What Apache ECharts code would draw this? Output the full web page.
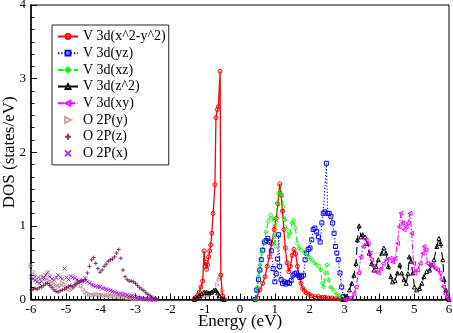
<!DOCTYPE html>
<html><head><meta charset="utf-8">
<script src="https://cdn.jsdelivr.net/npm/echarts@6/dist/echarts.min.js"></script>
<style>html,body{margin:0;padding:0;background:#fff}#c{width:453px;height:333px}</style>
</head><body><div id="c"></div>
<script>
// ---- tick values ----
const xTicks = [-6, -5, -4, -3, -2, -1, 0, 1, 2, 3, 4, 5, 6];
const yTicks = [0, 1, 2, 3, 4];

// ---- V 3d(x^2-y^2) ----
const eX2occ = [-1.31,-1.26,-1.21,-1.17,-1.12,-1.07,-1.03,-1.00,-0.98,-0.96,-0.93,-0.90,-0.87,-0.84,-0.81,-0.77,-0.72,-0.69,-0.65,-0.62,-0.57,-0.55,-0.50,-0.45];
const dX2occ = [0.01,0.03,0.06,0.10,0.17,0.25,0.66,0.45,0.51,0.41,0.47,0.58,0.66,0.74,0.90,1.17,1.56,2.47,2.58,2.62,3.10,0.33,0.05,0.00];
const eX2un = [0.45,0.50,0.57,0.65,0.72,0.78,0.84,0.91,0.98,1.04,1.09,1.14,1.18,1.22,1.26,1.30,1.35,1.40,1.45,1.50,1.55,1.60,1.65,1.70,1.75,1.80,1.85,1.90,1.98,2.06,2.15,2.25,2.35,2.45,2.55,2.65,2.75,2.85,2.95,3.05];
const dX2un = [0.00,0.02,0.13,0.22,0.31,0.45,0.58,0.76,0.95,1.10,1.30,1.57,1.42,1.20,0.95,0.70,0.50,0.38,0.45,0.60,0.68,0.62,0.45,0.32,0.22,0.15,0.12,0.09,0.07,0.05,0.04,0.04,0.03,0.03,0.02,0.02,0.01,0.01,0.00,0.00];

// ---- V 3d(yz) ----
const eYZ = [0.43,0.48,0.53,0.57,0.61,0.65,0.70,0.75,0.80,0.85,0.90,0.95,1.00,1.04,1.08,1.11,1.14,1.18,1.22,1.27,1.32,1.37,1.42,1.47,1.52,1.57,1.62,1.67,1.72,1.77,1.82,1.87,1.91,1.96,2.01,2.06,2.10,2.15,2.20,2.25,2.30,2.35,2.39,2.44,2.48,2.52,2.56,2.61,2.66,2.70,2.74,2.78,2.82,2.87,2.92,2.97,3.02];
const dYZ = [0.00,0.13,0.27,0.40,0.54,0.67,0.78,0.80,0.83,0.78,0.66,0.42,0.24,0.35,0.55,0.88,0.45,0.27,0.22,0.24,0.21,0.23,0.22,0.26,0.33,0.35,0.36,0.33,0.30,0.31,0.33,0.54,0.63,0.68,0.70,0.81,0.95,0.97,0.92,0.85,0.78,1.04,1.17,1.19,1.85,1.17,1.17,1.13,1.04,0.90,0.72,0.63,0.54,0.36,0.17,0.04,0.00];

// ---- V 3d(xz) ----
const eXZ = [0.45,0.50,0.53,0.57,0.62,0.69,0.75,0.81,0.88,0.94,0.98,1.01,1.04,1.07,1.10,1.15,1.20,1.24,1.29,1.34,1.39,1.44,1.49,1.54,1.59,1.64,1.70,1.77,1.84,1.91,1.98,2.06,2.13,2.20,2.27,2.32,2.36,2.40,2.45,2.50,2.55,2.60,2.68,2.76,2.84,2.92,3.00,3.08];
const dXZ = [0.00,0.17,0.31,0.47,0.63,0.79,0.92,1.06,1.15,1.10,0.85,0.72,1.05,1.31,1.44,1.47,1.40,1.26,1.08,0.95,0.85,0.90,1.04,1.08,0.97,0.76,0.70,0.67,0.64,0.62,0.58,0.54,0.50,0.47,0.45,0.40,0.22,0.17,0.36,0.47,0.27,0.17,0.13,0.08,0.05,0.02,0.01,0.00];

// ---- V 3d(z^2) ----
const eZ2occ = [-1.31,-1.24,-1.17,-1.10,-1.03,-0.96,-0.89,-0.82,-0.76,-0.70,-0.64,-0.58,-0.52,-0.46];
const dZ2occ = [0.00,0.02,0.05,0.08,0.10,0.10,0.09,0.10,0.12,0.13,0.09,0.05,0.01,0.00];
const eZ2un = [2.95,3.01,3.06,3.14,3.21,3.27,3.33,3.37,3.42,3.47,3.52,3.59,3.65,3.71,3.78,3.85,3.90,3.97,4.07,4.13,4.19,4.26,4.33,4.38,4.45,4.52,4.59,4.64,4.71,4.77,4.82,4.86,4.91,4.96,5.01,5.07,5.15,5.22,5.28,5.36,5.44,5.50,5.57,5.65,5.71,5.76,5.82,5.86,5.91,5.95,6.00];
const dZ2un = [0.00,0.01,0.04,0.13,0.22,0.33,0.49,0.81,1.00,0.85,0.88,0.85,0.76,0.63,0.49,0.40,0.45,0.54,0.63,0.70,0.63,0.45,0.31,0.24,0.26,0.36,0.47,0.36,0.27,0.22,0.35,0.58,0.52,0.36,0.17,0.13,0.15,0.22,0.31,0.38,0.40,0.47,0.54,0.72,0.83,0.76,0.54,0.27,0.13,0.04,0.00];

// ---- V 3d(xy) ----
const eXY = [3.00,3.10,3.20,3.27,3.33,3.40,3.47,3.54,3.62,3.68,3.73,3.78,3.83,3.90,3.97,4.04,4.11,4.21,4.31,4.38,4.45,4.52,4.57,4.62,4.67,4.71,4.77,4.82,4.88,4.93,4.98,5.02,5.09,5.17,5.25,5.28,5.34,5.38,5.45,5.53,5.60,5.67,5.74,5.79,5.84,5.89,5.94,6.00];
const dXY = [0.00,0.01,0.03,0.08,0.17,0.36,0.58,0.72,0.81,0.76,0.63,0.54,0.45,0.38,0.36,0.42,0.49,0.54,0.56,0.51,0.56,0.76,0.99,1.17,1.04,0.95,0.99,1.04,1.17,0.90,0.49,0.36,0.40,0.49,0.63,0.72,0.67,0.49,0.47,0.47,0.42,0.40,0.36,0.27,0.17,0.08,0.03,0.00];

// ---- O 2P (valence band grid) ----
const eO = [-6.00,-5.94,-5.88,-5.82,-5.76,-5.70,-5.64,-5.58,-5.52,-5.46,-5.40,-5.34,-5.28,-5.22,-5.16,-5.10,-5.04,-4.98,-4.92,-4.86,-4.80,-4.74,-4.68,-4.62,-4.56,-4.50,-4.44,-4.38,-4.32,-4.26,-4.20,-4.14,-4.08,-4.02,-3.96,-3.90,-3.84,-3.78,-3.72,-3.66,-3.60,-3.54,-3.48,-3.42,-3.36,-3.30,-3.24,-3.18,-3.12,-3.06,-3.00,-2.94,-2.88,-2.82,-2.76,-2.70,-2.64,-2.58,-2.52,-2.46,-2.40];
const dOy = [0.46,0.38,0.33,0.30,0.28,0.30,0.31,0.28,0.26,0.24,0.22,0.20,0.19,0.17,0.19,0.22,0.20,0.16,0.14,0.13,0.15,0.18,0.21,0.24,0.19,0.14,0.10,0.08,0.07,0.06,0.06,0.07,0.07,0.06,0.06,0.05,0.05,0.06,0.05,0.05,0.04,0.04,0.04,0.03,0.03,0.03,0.02,0.02,0.02,0.01,0.01,0.01,0.01,0.01,0.00,0.00,0.00,0.00,0.00,0.00,0.00];
const dOz = [0.13,0.14,0.15,0.14,0.16,0.17,0.19,0.21,0.22,0.19,0.16,0.13,0.11,0.10,0.12,0.13,0.14,0.16,0.18,0.19,0.17,0.20,0.22,0.24,0.26,0.25,0.27,0.36,0.45,0.54,0.57,0.49,0.42,0.37,0.40,0.45,0.48,0.52,0.54,0.55,0.58,0.63,0.68,0.56,0.40,0.31,0.27,0.25,0.25,0.24,0.22,0.19,0.16,0.14,0.12,0.09,0.07,0.05,0.03,0.01,0.00];
const dOx = [0.31,0.28,0.26,0.24,0.22,0.25,0.30,0.33,0.37,0.31,0.28,0.26,0.30,0.33,0.30,0.28,0.42,0.30,0.27,0.32,0.30,0.29,0.27,0.25,0.24,0.26,0.29,0.24,0.22,0.20,0.19,0.18,0.17,0.17,0.15,0.15,0.14,0.13,0.12,0.11,0.10,0.09,0.08,0.08,0.07,0.07,0.06,0.05,0.05,0.04,0.04,0.03,0.02,0.02,0.01,0.01,0.01,0.00,0.00,0.00,0.00];
// O 2P(y) near the V occupied band
const eOcc = [-1.30,-1.25,-1.20,-1.15,-1.10,-1.05,-1.00,-0.95,-0.90,-0.85,-0.80,-0.75,-0.70,-0.65,-0.60,-0.55,-0.50,-0.45];
const dOyOcc = [0.00,0.01,0.02,0.03,0.04,0.05,0.05,0.06,0.06,0.07,0.08,0.10,0.13,0.20,0.27,0.30,0.12,0.00];

const names = ['V 3d(x^2-y^2)','V 3d(yz)','V 3d(xz)','V 3d(z^2)','V 3d(xy)','O 2P(y)','O 2P(z)','O 2P(x)'];
const colors = ['#ff0000','#0000ff','#00ff00','#000000','#ff00ff','#bc8f8f','#670748','#9400d3'];

function pairs(e, d) { return e.map((x, i) => [x, d[i]]); }
function join(a, b) { return a.concat([[0, '-']], b); }

const FONT = '"Liberation Serif", "Times New Roman", serif';
const HOLLOW = 'rgba(255,255,255,0)';

function lineSeries(i, data, symbol, dash, width) {
  return {
    name: names[i], type: 'line', data: data, symbol: symbol, symbolSize: 4,
    showSymbol: true, connectNulls: false,
    lineStyle: { color: colors[i], width: width, type: dash },
    itemStyle: { color: HOLLOW, borderColor: colors[i], borderWidth: 1 },
    emphasis: { disabled: true }
  };
}
function scatterSeries(i, data, symbol, fill) {
  return {
    name: names[i], type: 'scatter', data: data, symbol: symbol, symbolSize: 4,
    itemStyle: { color: fill, borderColor: colors[i], borderWidth: 1 },
    emphasis: { disabled: true }
  };
}

const chart = echarts.init(document.getElementById('c'), null, { renderer: 'canvas' });
chart.setOption({
  animation: false,
  backgroundColor: '#fff',
  textStyle: { fontFamily: FONT },
  grid: { left: 31, right: 4, top: 5, bottom: 33.5, show: true, borderColor: '#000', borderWidth: 1,
          containLabel: false, outerBoundsMode: 'none' },
  legend: {
    data: names, orient: 'vertical', left: 52, top: 25,
    padding: [4, 3, 4, 5], itemWidth: 20, itemHeight: 6, itemGap: 1.7,
    backgroundColor: '#fff', borderColor: '#222', borderWidth: 1,
    textStyle: { fontFamily: FONT, fontSize: 14, lineHeight: 15, color: '#000' },
    selectedMode: false
  },
  xAxis: {
    type: 'value', min: xTicks[0], max: xTicks[xTicks.length - 1], interval: 1,
    name: 'Energy (eV)', nameLocation: 'middle', nameGap: 14, nameMoveOverlap: false,
    nameTextStyle: { fontFamily: FONT, fontSize: 17, color: '#000' },
    axisLine: { onZero: false, lineStyle: { color: '#000', width: 1.5 } },
    axisTick: { inside: true, length: 6, lineStyle: { color: '#000' } },
    minorTick: { show: true, splitNumber: 9, length: 3.5, lineStyle: { color: '#000' } },
    axisLabel: { fontFamily: FONT, fontSize: 13, color: '#000', margin: 4, showMinLabel: true, showMaxLabel: true },
    splitLine: { show: false }
  },
  yAxis: {
    type: 'value', min: yTicks[0], max: yTicks[yTicks.length - 1], interval: 1,
    name: 'DOS (states/eV)', nameLocation: 'middle', nameGap: 13, nameMoveOverlap: false,
    nameTextStyle: { fontFamily: FONT, fontSize: 17, color: '#000' },
    axisLine: { onZero: false, lineStyle: { color: '#000', width: 1.5 } },
    axisTick: { inside: true, length: 6, lineStyle: { color: '#000' } },
    minorTick: { show: true, splitNumber: 6, length: 3.5, lineStyle: { color: '#000' } },
    axisLabel: { fontFamily: FONT, fontSize: 13, color: '#000', margin: 5, showMinLabel: true, showMaxLabel: true },
    splitLine: { show: false }
  },
  series: [
    lineSeries(0, join(pairs(eX2occ, dX2occ), pairs(eX2un, dX2un)), 'circle', 'solid', 1.3),
    lineSeries(1, pairs(eYZ, dYZ), 'rect', [1.2, 2], 1.1),
    lineSeries(2, pairs(eXZ, dXZ), 'diamond', [5, 3], 1.1),
    lineSeries(3, join(pairs(eZ2occ, dZ2occ), pairs(eZ2un, dZ2un)), 'triangle', [8, 4], 1.1),
    lineSeries(4, pairs(eXY, dXY), 'path://M10,0L0,5L10,10Z', [6, 2, 1.5, 2], 1.1),
    scatterSeries(5, pairs(eO, dOy).concat(pairs(eOcc, dOyOcc)), 'path://M0,0L10,5L0,10Z', HOLLOW),
    scatterSeries(6, pairs(eO, dOz), 'path://M0,5L10,5M5,0L5,10', HOLLOW),
    scatterSeries(7, pairs(eO, dOx), 'path://M0,0L10,10M10,0L0,10', HOLLOW)
  ]
});
</script>
</body></html>
